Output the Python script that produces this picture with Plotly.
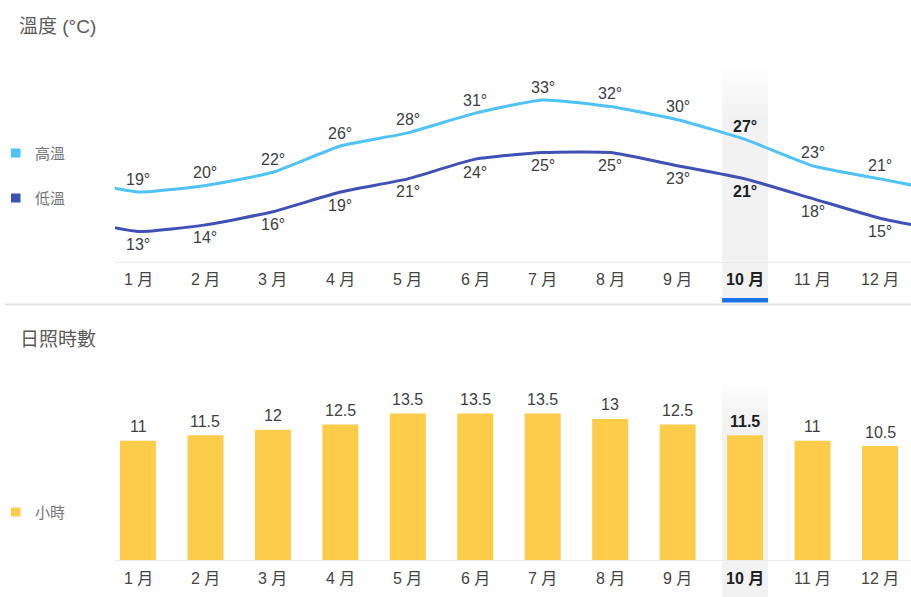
import plotly.graph_objects as go

# ---- data ----
months = list(range(1, 13))
month_labels = ["1 月", "2 月", "3 月", "4 月", "5 月", "6 月", "7 月", "8 月", "9 月", "10 月", "11 月", "12 月"]
high_temp = [19, 20, 22, 26, 28, 31, 33, 32, 30, 27, 23, 21]
low_temp = [13, 14, 16, 19, 21, 24, 25, 25, 23, 21, 18, 15]
sun_hours = [11, 11.5, 12, 12.5, 13.5, 13.5, 13.5, 13, 12.5, 11.5, 11, 10.5]
hour_labels = ["11", "11.5", "12", "12.5", "13.5", "13.5", "13.5", "13", "12.5", "11.5", "11", "10.5"]
highlight_month = 10

W, H = 911, 597
FONT = "Arial, 'Liberation Sans', 'Noto Sans CJK TC', sans-serif"
C_HIGH = "#4fc3f7"
C_LOW = "#3f51b5"
C_BAR = "#fecc4b"
TXT = "#3c4043"


def py(p):
    return 1 - p / H


def px(p):
    return p / W


# wrap-around for the line ends (previous December / next January)
x_ext = [0] + months + [13]
high_ext = [high_temp[-1]] + high_temp + [high_temp[0]]
low_ext = [low_temp[-1]] + low_temp + [low_temp[0]]

fig = go.Figure()
fig.add_trace(go.Scatter(x=x_ext, y=high_ext, mode="lines", name="高溫",
                         line=dict(color=C_HIGH, width=3, shape="spline", smoothing=0.5),
                         hoverinfo="skip", showlegend=False, xaxis="x", yaxis="y"))
fig.add_trace(go.Scatter(x=x_ext, y=low_ext, mode="lines", name="低溫",
                         line=dict(color=C_LOW, width=3, shape="spline", smoothing=0.5),
                         hoverinfo="skip", showlegend=False, xaxis="x", yaxis="y"))
fig.add_trace(go.Bar(x=months, y=sun_hours, name="小時", marker=dict(color=C_BAR, line=dict(width=0)),
                     width=0.534, hoverinfo="skip", showlegend=False, xaxis="x2", yaxis="y2"))

# pixel geometry
x_range = [1 - 23 / 67.45, 12 + 31 / 67.45]
k = 6.571  # px per degree
t_top = 19 + (192 - 65) / k
t_bot = 19 - (262 - 192) / k
h_top = (560 - 380) / 10.85

xaxis_common = dict(range=x_range, domain=[px(115), 1], showgrid=False, zeroline=False,
                    showticklabels=False, ticks="", showline=True, linecolor="#ebebeb", linewidth=1,
                    fixedrange=True)
fig.update_layout(
    width=W, height=H, autosize=False,
    margin=dict(l=0, r=0, t=0, b=0),
    paper_bgcolor="white", plot_bgcolor="rgba(0,0,0,0)",
    font=dict(family=FONT, size=16, color=TXT),
    xaxis=dict(**xaxis_common, anchor="y"),
    yaxis=dict(range=[t_bot, t_top], domain=[py(262), py(65)], visible=False, fixedrange=True),
    xaxis2=dict(**xaxis_common, anchor="y2"),
    yaxis2=dict(range=[0, h_top], domain=[py(560), py(380)], visible=False, fixedrange=True),
    barmode="overlay",
)

shapes = []
ann = []

# highlight band (gradient at top)
hx0, hx1 = highlight_month - 23 / 67.45, highlight_month + 23 / 67.45
band_col = (242, 242, 242)


def band(top, bottom, fade):
    steps = 10
    for i in range(steps):
        y0 = top + fade * i / steps
        y1 = top + fade * (i + 1) / steps
        a = (i + 0.5) / steps
        c = tuple(round(255 - (255 - v) * a) for v in band_col)
        shapes.append(dict(type="rect", xref="x", yref="paper", x0=hx0, x1=hx1,
                           y0=py(y1), y1=py(y0), fillcolor="rgb(%d,%d,%d)" % c,
                           line=dict(width=0), layer="below"))
    shapes.append(dict(type="rect", xref="x", yref="paper", x0=hx0, x1=hx1,
                       y0=py(bottom), y1=py(top + fade), fillcolor="rgb(%d,%d,%d)" % band_col,
                       line=dict(width=0), layer="below"))


band(65, 302, 50)
band(380, 597, 40)

# blue indicator under 10 月
shapes.append(dict(type="rect", xref="x", yref="paper", x0=hx0, x1=hx1, y0=py(302.5), y1=py(298),
                   fillcolor="#1a73e8", line=dict(width=0)))
# separator
shapes.append(dict(type="line", xref="paper", yref="paper", x0=px(5), x1=1, y0=py(304.5), y1=py(304.5),
                   line=dict(color="#e2e2e2", width=2)))

# titles
ann.append(dict(text="溫度 (°C)", xref="paper", yref="paper", x=px(17), y=py(27), xanchor="left",
                yanchor="middle", showarrow=False, font=dict(size=19, color="#5a5a5a")))
ann.append(dict(text="日照時數", xref="paper", yref="paper", x=px(18), y=py(340), xanchor="left",
                yanchor="middle", showarrow=False, font=dict(size=19, color="#5a5a5a")))

# legends
for label, col, yc in [("高溫", C_HIGH, 153), ("低溫", C_LOW, 198), ("小時", C_BAR, 512)]:
    shapes.append(dict(type="rect", xref="paper", yref="paper", x0=px(11), x1=px(20.5),
                       y0=py(yc + 4.5), y1=py(yc - 4.5), fillcolor=col, line=dict(width=0)))
    ann.append(dict(text=label, xref="paper", yref="paper", x=px(33), y=py(yc), xanchor="left",
                    yanchor="middle", showarrow=False, font=dict(size=15, color="#70757a")))

# month labels
for m, lab in zip(months, month_labels):
    bold = m == highlight_month
    t = "<b>%s</b>" % lab if bold else lab
    for yy, xr in [(279, "x"), (578, "x2")]:
        ann.append(dict(text=t, xref=xr, yref="paper", x=m, y=py(yy), xanchor="center", yanchor="middle",
                        showarrow=False, font=dict(size=16, color="#202124" if bold else "#444")))

# temperature labels
for m, hi, lo in zip(months, high_temp, low_temp):
    bold = m == highlight_month
    th = "<b>%d°</b>" % hi if bold else "%d°" % hi
    tl = "<b>%d°</b>" % lo if bold else "%d°" % lo
    c = "#202124" if bold else TXT
    ann.append(dict(text=th, xref="x", yref="y", x=m, y=hi, yshift=13, xanchor="center", yanchor="middle",
                    showarrow=False, font=dict(size=16, color=c)))
    ann.append(dict(text=tl, xref="x", yref="y", x=m, y=lo, yshift=-13, xanchor="center", yanchor="middle",
                    showarrow=False, font=dict(size=16, color=c)))

# bar labels
for m, v, lab in zip(months, sun_hours, hour_labels):
    bold = m == highlight_month
    t = "<b>%s</b>" % lab if bold else lab
    ann.append(dict(text=t, xref="x2", yref="y2", x=m, y=v, yshift=14, xanchor="center", yanchor="middle",
                    showarrow=False, font=dict(size=16, color="#202124" if bold else TXT)))

fig.update_layout(shapes=shapes, annotations=ann)
fig.write_html("out.html", config={"displayModeBar": False},
               post_script="document.body.style.margin='0';document.body.style.overflow='hidden';")
